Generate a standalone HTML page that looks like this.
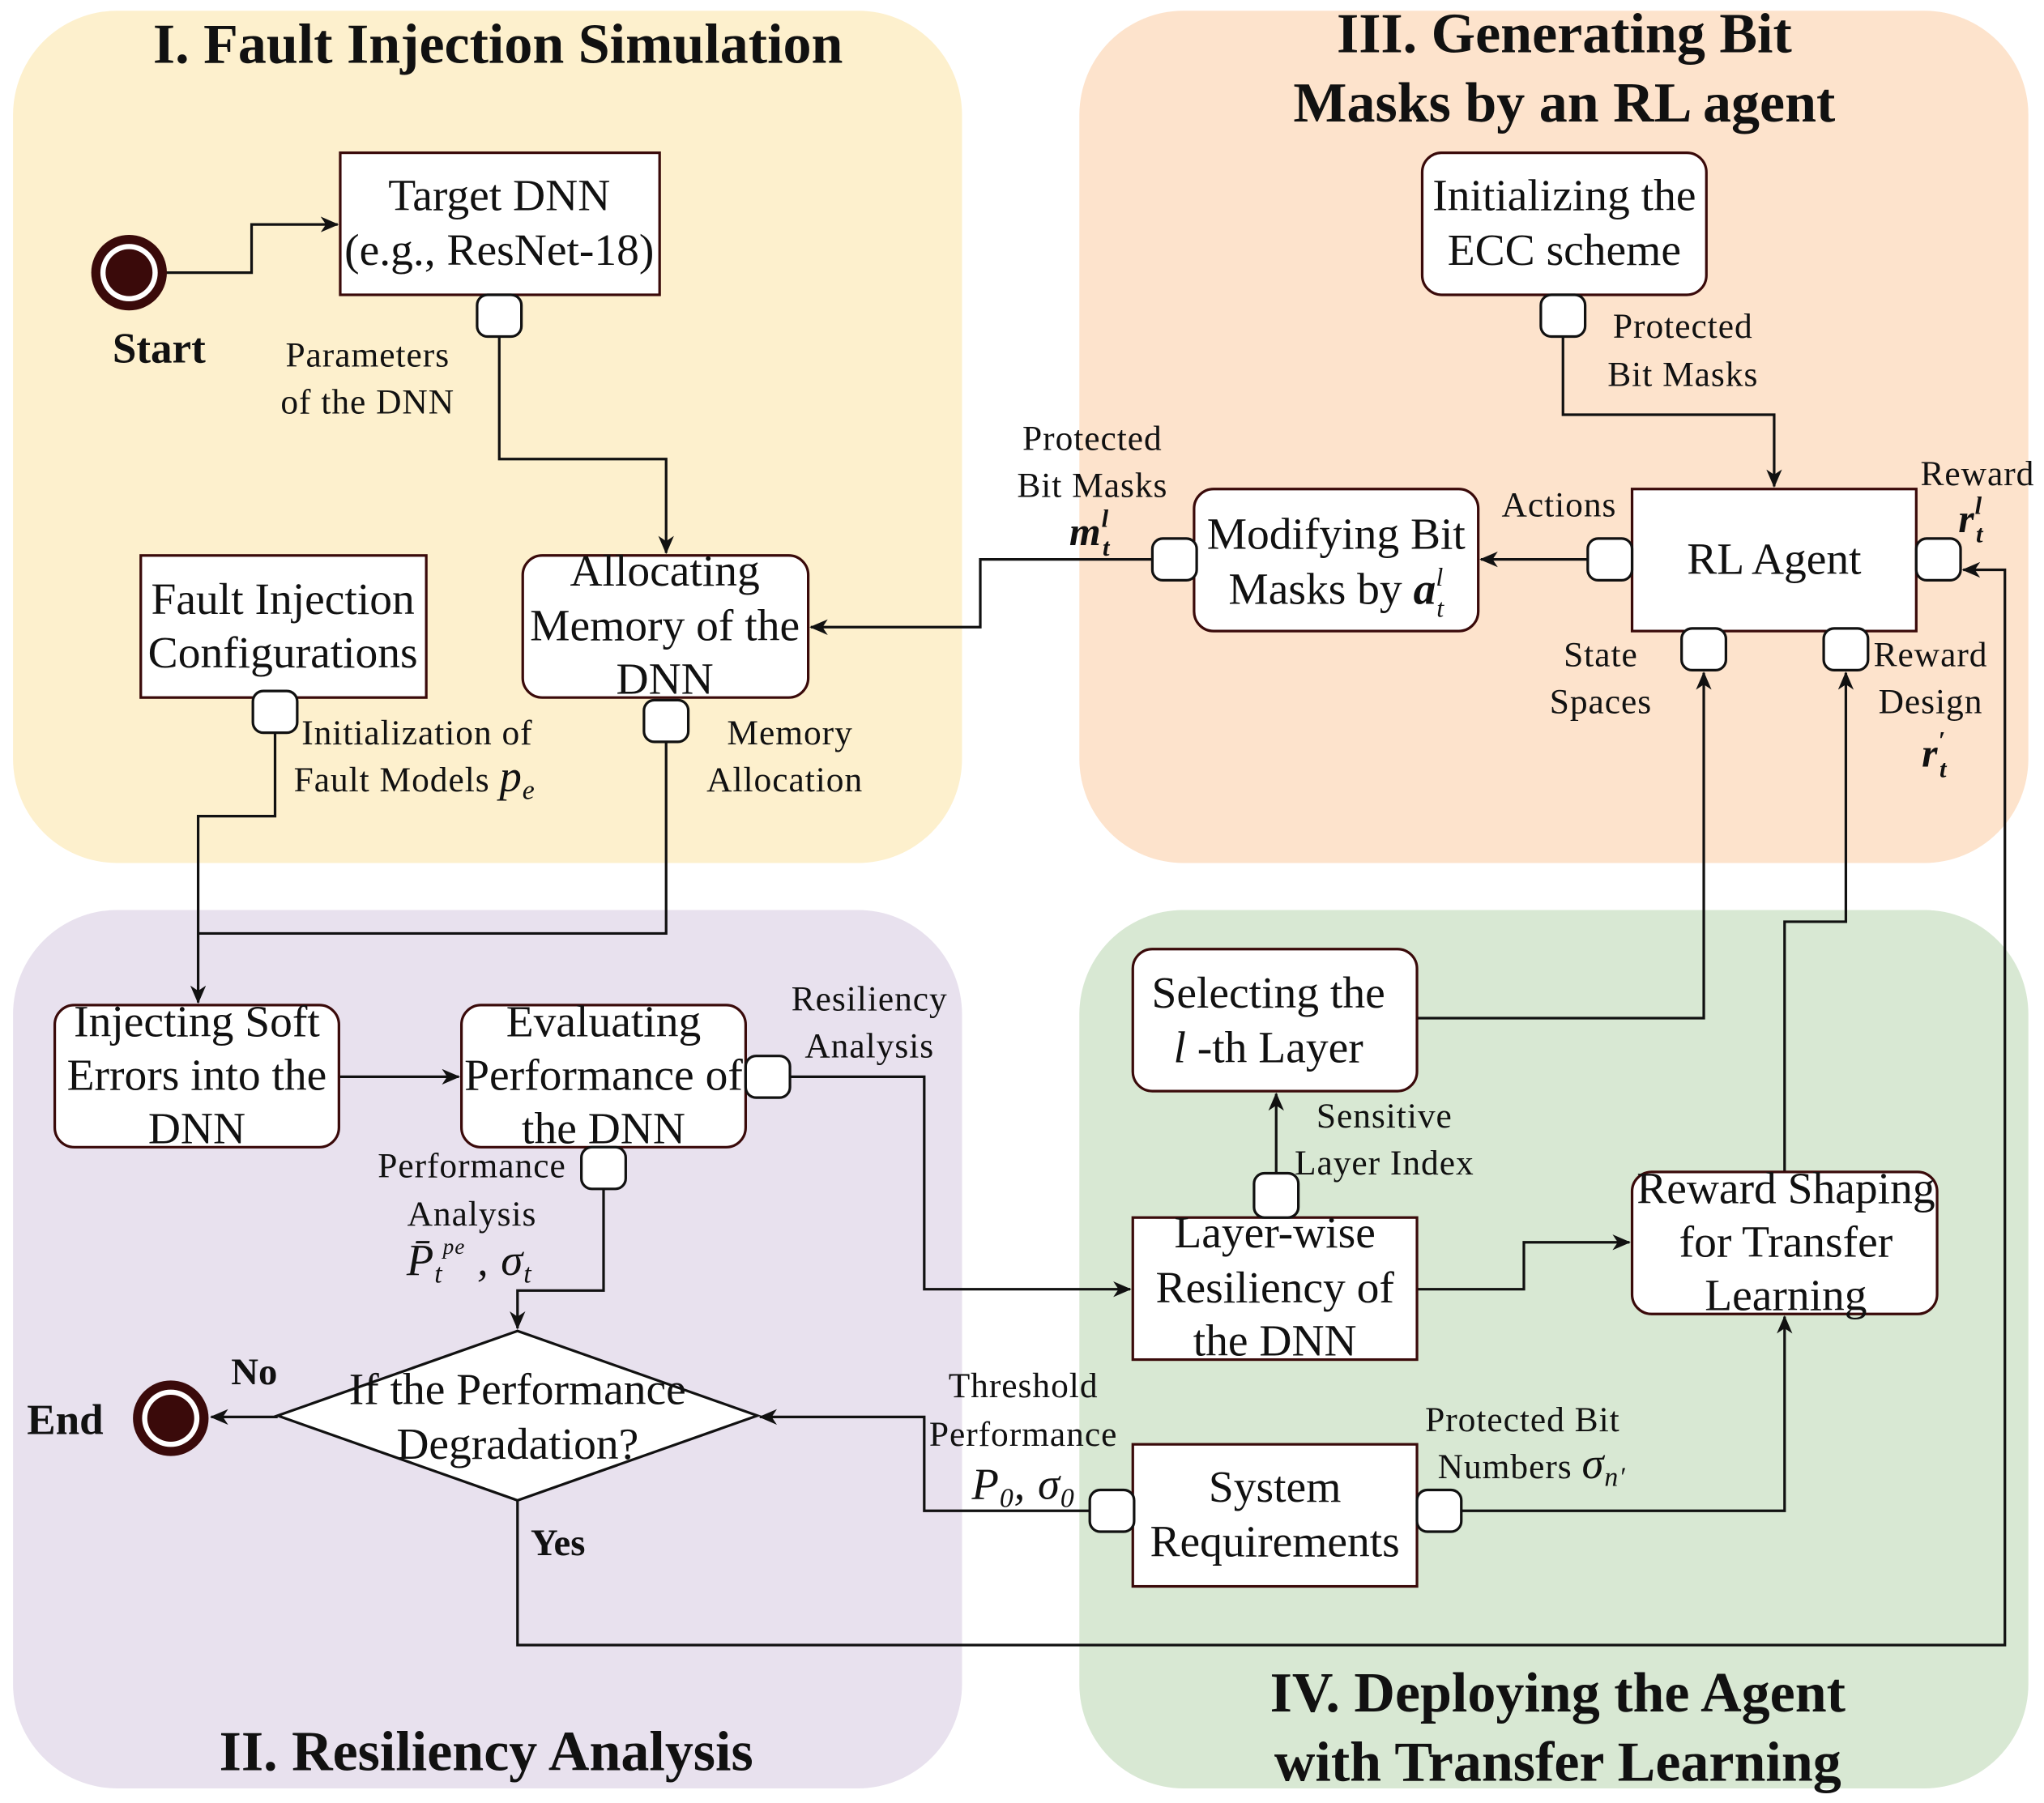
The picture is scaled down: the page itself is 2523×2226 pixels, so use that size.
<!DOCTYPE html>
<html><head><meta charset="utf-8"><style>
html,body{margin:0;padding:0;background:#fff}
svg{display:block}
text{font-family:"Liberation Serif",serif;fill:#111}
.n{font-size:34.5px;text-anchor:middle}
.s{font-size:27px;text-anchor:middle;letter-spacing:0.6px}
.t{font-size:43.5px;font-weight:bold;text-anchor:middle}
.b{font-weight:bold}
.i{font-style:italic}
line,path.c{stroke:#111;stroke-width:2;fill:none}
rect.box{fill:#fff;stroke:#3a0a0a;stroke-width:2}
rect.p{fill:#fff;stroke:#111;stroke-width:2}
</style></head><body>
<svg width="2523" height="2226" viewBox="0 0 1568 1383" xmlns="http://www.w3.org/2000/svg">
<defs><marker id="a" markerWidth="14" markerHeight="12" refX="13" refY="6" orient="auto" markerUnits="userSpaceOnUse"><path d="M0,0 L14,6 L0,12 L4,6 z" fill="#111"/></marker></defs>
<rect x="10" y="8" width="728" height="654" rx="80" fill="#fdf0cd"/>
<rect x="828" y="8" width="728" height="654" rx="80" fill="#fde3cc"/>
<rect x="10" y="698" width="728" height="674" rx="80" fill="#e8e1ee"/>
<rect x="828" y="698" width="728" height="674" rx="80" fill="#d8e8d3"/>
<text class="t" x="382" y="48">I. Fault Injection Simulation</text>
<text class="t" x="1200" y="40">III. Generating Bit</text>
<text class="t" x="1200" y="93">Masks by an RL agent</text>
<text class="t" x="373" y="1358">II. Resiliency Analysis</text>
<text class="t" x="1195" y="1313">IV. Deploying the Agent</text>
<text class="t" x="1195" y="1366">with Transfer Learning</text>

<path class="c" d="M127,209 H193 V172 H259" marker-end="url(#a)"/>
<path class="c" d="M383,258 V352 H511 V424" marker-end="url(#a)"/>
<path class="c" d="M884,429 H752 V481 H622" marker-end="url(#a)"/>
<path class="c" d="M1218,429 H1136" marker-end="url(#a)"/>
<path class="c" d="M1199,258 V318 H1361 V373" marker-end="url(#a)"/>
<path class="c" d="M211,562 V626 H152 V769" marker-end="url(#a)"/>
<path class="c" d="M511,569 V716 H152"/>
<path class="c" d="M260,826 H352" marker-end="url(#a)"/>
<path class="c" d="M606,826 H709 V989 H867" marker-end="url(#a)"/>
<path class="c" d="M463,912 V990 H397 V1019" marker-end="url(#a)"/>
<path class="c" d="M213,1087 H162" marker-end="url(#a)"/>
<path class="c" d="M397,1150 V1262 H1538 V437 H1506" marker-end="url(#a)"/>
<path class="c" d="M836,1159 H709 V1087 H583" marker-end="url(#a)"/>
<path class="c" d="M1121,1159 H1369 V1010" marker-end="url(#a)"/>
<path class="c" d="M1087,989 H1169 V953 H1250" marker-end="url(#a)"/>
<path class="c" d="M979,900 V839" marker-end="url(#a)"/>
<path class="c" d="M1087,781 H1307 V516" marker-end="url(#a)"/>
<path class="c" d="M1369,899 V707 H1416 V516" marker-end="url(#a)"/>

<circle cx="99" cy="209" r="29" fill="#3a0a0a"/><circle cx="99" cy="209" r="22" fill="#fff"/><circle cx="99" cy="209" r="18" fill="#3a0a0a"/>
<text x="122" y="278" class="b" style="font-size:33px;text-anchor:middle">Start</text>
<circle cx="131" cy="1088" r="29" fill="#3a0a0a"/><circle cx="131" cy="1088" r="22" fill="#fff"/><circle cx="131" cy="1088" r="18" fill="#3a0a0a"/>
<text x="50" y="1100" class="b" style="font-size:33px;text-anchor:middle">End</text>
<text x="195" y="1062" class="b" style="font-size:29px;text-anchor:middle">No</text>
<text x="428" y="1193" class="b" style="font-size:29px;text-anchor:middle">Yes</text>

<rect class="box" x="261" y="117" width="245" height="109"/>
<text class="n" x="383" y="161">Target DNN</text><text class="n" x="383" y="203">(e.g., ResNet-18)</text>
<rect class="box" x="401" y="426" width="219" height="109" rx="15"/>
<text class="n" x="510" y="449">Allocating</text><text class="n" x="510" y="491">Memory of the</text><text class="n" x="510" y="532">DNN</text>
<rect class="box" x="108" y="426" width="219" height="109"/>
<text class="n" x="217" y="471">Fault Injection</text><text class="n" x="217" y="512">Configurations</text>
<rect class="box" x="42" y="771" width="218" height="109" rx="15"/>
<text class="n" x="151" y="795">Injecting Soft</text><text class="n" x="151" y="836">Errors into the</text><text class="n" x="151" y="877">DNN</text>
<rect class="box" x="354" y="771" width="218" height="109" rx="15"/>
<text class="n" x="463" y="795">Evaluating</text><text class="n" x="463" y="836">Performance of</text><text class="n" x="463" y="877">the DNN</text>
<polygon points="213,1086 397,1021 581,1086 397,1151" fill="#fff" stroke="#111" stroke-width="2"/>
<text class="n" x="397" y="1077">If the Performance</text><text class="n" x="397" y="1119">Degradation?</text>
<rect class="box" x="869" y="934" width="218" height="109"/>
<text class="n" x="978" y="957">Layer-wise</text><text class="n" x="978" y="999">Resiliency of</text><text class="n" x="978" y="1040">the DNN</text>
<rect class="box" x="869" y="728" width="218" height="109" rx="15"/>
<text class="n" x="973" y="773">Selecting the</text><text class="n" x="973" y="815"><tspan class="i">l</tspan> -th Layer</text>
<rect class="box" x="1252" y="899" width="234" height="109" rx="15"/>
<text class="n" x="1370" y="923">Reward Shaping</text><text class="n" x="1370" y="964">for Transfer</text><text class="n" x="1370" y="1005">Learning</text>
<rect class="box" x="869" y="1108" width="218" height="109"/>
<text class="n" x="978" y="1152">System</text><text class="n" x="978" y="1194">Requirements</text>
<rect class="box" x="1091" y="117" width="218" height="109" rx="15"/>
<text class="n" x="1200" y="161">Initializing the</text><text class="n" x="1200" y="203">ECC scheme</text>
<rect class="box" x="1252" y="375" width="218" height="109"/>
<text class="n" x="1361" y="440">RL Agent</text>
<rect class="box" x="916" y="375" width="218" height="109" rx="15"/>
<text class="n" x="1025" y="421">Modifying Bit</text><text class="n" x="1025" y="463">Masks by <tspan class="i b">a</tspan><tspan class="i" style="font-size:20px" dy="-14">l</tspan><tspan class="i" style="font-size:20px" dx="-5" dy="24">t</tspan></text>

<rect class="p" x="366" y="226" width="34" height="32" rx="8"/>
<rect class="p" x="194" y="530" width="34" height="32" rx="8"/>
<rect class="p" x="494" y="537" width="34" height="32" rx="8"/>
<rect class="p" x="572" y="810" width="34" height="32" rx="8"/>
<rect class="p" x="446" y="880" width="34" height="32" rx="8"/>
<rect class="p" x="962" y="900" width="34" height="34" rx="8"/>
<rect class="p" x="836" y="1143" width="34" height="32" rx="8"/>
<rect class="p" x="1087" y="1143" width="34" height="32" rx="8"/>
<rect class="p" x="1182" y="226" width="34" height="32" rx="8"/>
<rect class="p" x="1218" y="413" width="34" height="32" rx="8"/>
<rect class="p" x="1470" y="413" width="34" height="32" rx="8"/>
<rect class="p" x="1290" y="482" width="34" height="32" rx="8"/>
<rect class="p" x="1399" y="482" width="34" height="32" rx="8"/>
<rect class="p" x="884" y="413" width="34" height="32" rx="8"/>

<text class="s" x="282" y="281">Parameters</text><text class="s" x="282" y="317">of the DNN</text>
<text class="s" x="320" y="571">Initialization of</text><text class="s" x="318" y="607">Fault Models <tspan class="i" style="font-size:34px">p</tspan><tspan class="i" style="font-size:21px" dy="6">e</tspan></text>
<text class="s" x="606" y="571">Memory</text><text class="s" x="602" y="607">Allocation</text>
<text class="s" x="667" y="775">Resiliency</text><text class="s" x="667" y="811">Analysis</text>
<text class="s" x="362" y="903">Performance</text><text class="s" x="362" y="940">Analysis</text>
<text class="s i" x="360" y="978" style="font-size:34px">P̄<tspan style="font-size:21px" dy="6">t</tspan><tspan style="font-size:17px" dy="-22">pe</tspan><tspan dy="16"> , σ</tspan><tspan style="font-size:21px" dy="6">t</tspan></text>
<text class="s" x="1062" y="865">Sensitive</text><text class="s" x="1062" y="901">Layer Index</text>
<text class="s" x="785" y="1072">Threshold</text><text class="s" x="785" y="1109">Performance</text>
<text class="s i" x="785" y="1150" style="font-size:34px">P<tspan style="font-size:21px" dy="6">0</tspan><tspan dy="-6">, σ</tspan><tspan style="font-size:21px" dy="6">0</tspan></text>
<text class="s" x="1168" y="1098">Protected Bit</text>
<text class="s" x="1175" y="1134">Numbers <tspan class="i" style="font-size:34px">σ</tspan><tspan class="i" style="font-size:21px" dy="6">n′</tspan></text>
<text class="s" x="1291" y="259">Protected</text><text class="s" x="1291" y="296">Bit Masks</text>
<text class="s" x="1196" y="396">Actions</text>
<text class="s" x="1517" y="372">Reward</text>
<text class="s i b" x="1512" y="408" style="font-size:31px">r<tspan style="font-size:19px" dy="-14">l</tspan><tspan style="font-size:19px" dx="-5" dy="22">t</tspan></text>
<text class="s" x="1228" y="511">State</text><text class="s" x="1228" y="547">Spaces</text>
<text class="s" x="1481" y="511">Reward</text><text class="s" x="1481" y="547">Design</text>
<text class="s i b" x="1484" y="588" style="font-size:31px">r<tspan style="font-size:19px" dy="-14">′</tspan><tspan style="font-size:19px" dx="-5" dy="22">t</tspan></text>
<text class="s" x="838" y="345">Protected</text><text class="s" x="838" y="381">Bit Masks</text>
<text class="s i b" x="836" y="418" style="font-size:31px">m<tspan style="font-size:19px" dy="-14">l</tspan><tspan style="font-size:19px" dx="-5" dy="22">t</tspan></text>
</svg>
</body></html>
